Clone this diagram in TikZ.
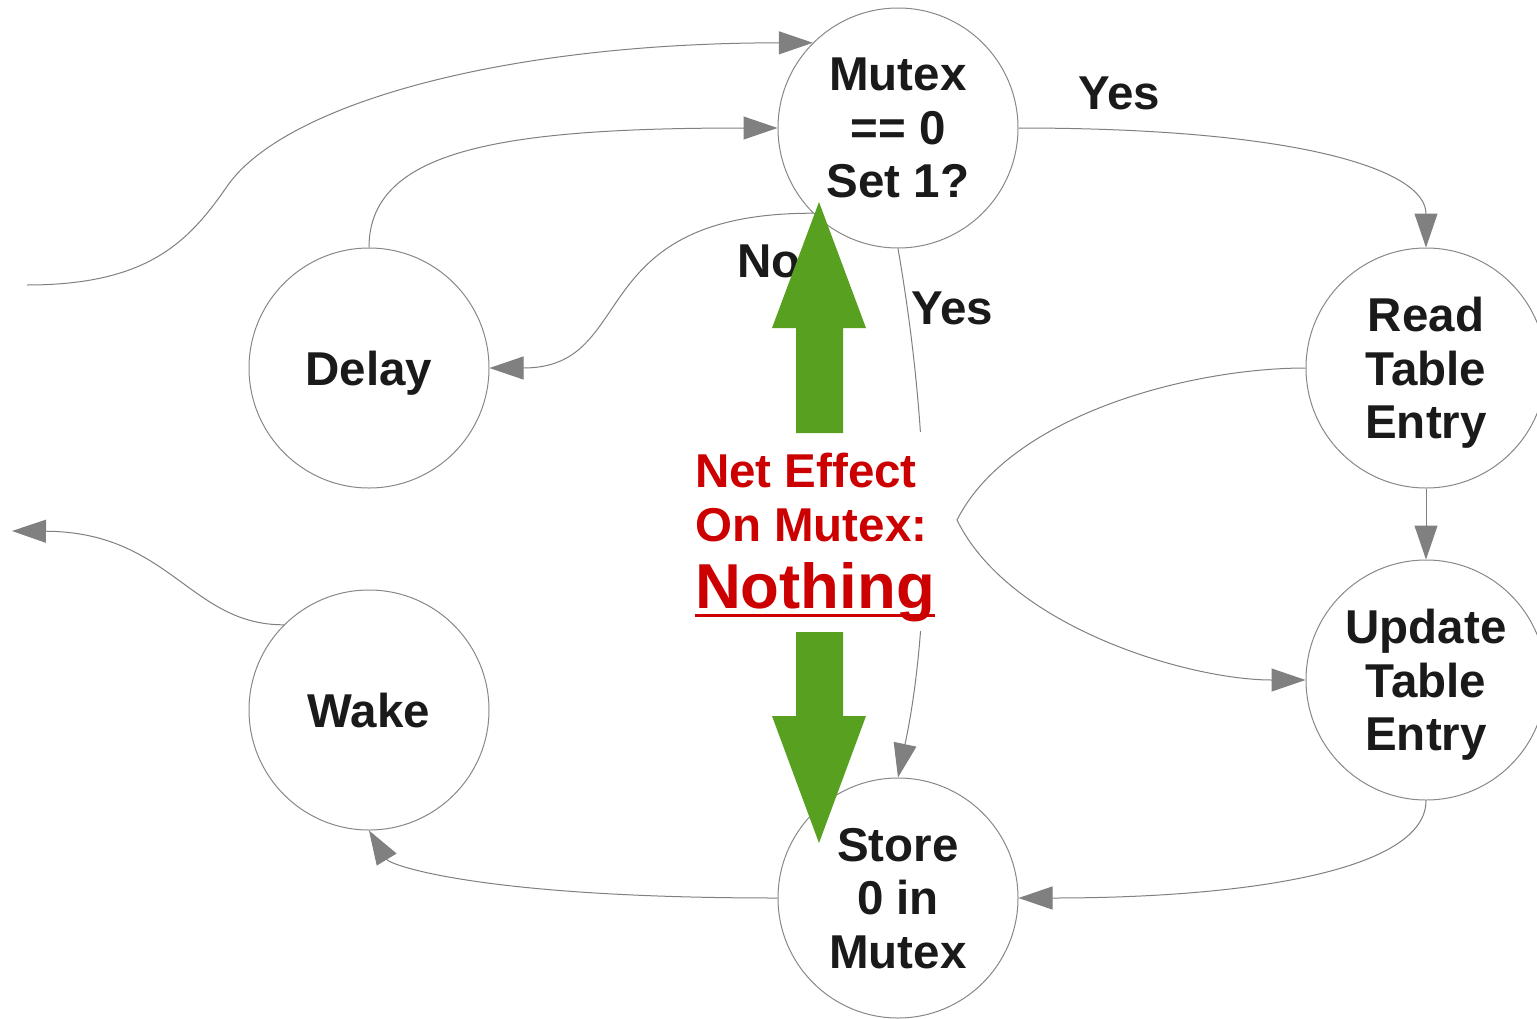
\documentclass[tikz,border=0pt]{standalone}
\usepackage{fontspec}
\setmainfont{Liberation Sans}
\usetikzlibrary{arrows.meta}
\definecolor{edgegray}{RGB}{128,128,128}
\definecolor{ringgray}{RGB}{136,136,136}
\definecolor{inkdark}{RGB}{26,26,26}
\definecolor{notered}{RGB}{204,0,0}
\definecolor{leafgreen}{RGB}{88,160,32}
% word with a flat underline set a fixed distance below the baseline
\newcommand\ulword[1]{\setbox0=\hbox{#1}\rlap{\rule[-8pt]{\wd0}{3pt}}\box0}
\begin{document}
\begin{tikzpicture}[x=1pt,y=-1pt,
  state/.style={circle, draw=ringgray, line width=1pt, minimum size=240pt,
    inner sep=0pt, align=center, text=inkdark, text depth=0pt,
    font=\fontsize{47.5}{53.5}\selectfont\bfseries},
  conn/.style={draw=edgegray, line width=1pt},
  tipped/.style={conn, -{Triangle[length=34pt,width=23pt]}},
  edgelabel/.style={text=inkdark, inner sep=0pt, anchor=base,
    font=\fontsize{47.5}{53.5}\selectfont\bfseries},
  notebox/.style={fill=white, align=left, text=notered, inner sep=0pt,
    minimum width=265pt, minimum height=199pt, text depth=0pt,
    font=\fontsize{47.5}{54}\selectfont\bfseries},
  bigarrow/.style={fill=leafgreen, draw=none}]

\fill[white] (0,0) rectangle (1537,1018);
\useasboundingbox (0,0) rectangle (1537,1018);

% states
\node[state] (mutex)  at (898,128)  {Mutex\\== 0\\Set 1?};
\node[state] (delay)  at (369,368)  {Delay};
\node[state] (wake)   at (369,710)  {Wake};
\node[state] (store)  at (898,898)  {Store\\0 in\\Mutex};
\node[state] (read)   at (1426,368) {Read\\Table\\Entry};
\node[state] (update) at (1426,680) {Update\\Table\\Entry};

% loose ends entering and leaving the loop
\coordinate (enter) at (27,285);
\coordinate (leave) at (12,531);
\coordinate (fork)  at (957,520);

% transitions
\draw[tipped] (enter) .. controls (150,285) and (190,240) .. (228,185)
  .. controls (285,105) and (500,43) .. (mutex.135);
\draw[tipped] (delay.north) .. controls (369,150) and (500,128) .. (mutex.west);
\draw[tipped] (mutex.225) .. controls (580,213) and (640,368) .. (delay.east);
\draw[tipped] (mutex.east) .. controls (1300,128) and (1426,170) .. (read.north);
\draw[tipped] (mutex.south) .. controls (938,480) and (925,650) .. (store.north);
\draw[tipped] (read.west) .. controls (1190,368) and (1010,415) .. (fork)
  .. controls (1010,628) and (1190,680) .. (update.west);
\draw[tipped] (read.south) -- (update.north);
\draw[tipped] (update.south) .. controls (1426,870) and (1250,898) .. (store.east);
\draw[tipped] (store.west) .. controls (480,898) and (390,865) .. (wake.south);
\draw[tipped] (wake.135) .. controls (190,625) and (170,532) .. (leave);

% branch labels
\node[edgelabel] (yesright) at (1119,109) {Yes};
\node[edgelabel] (yesdown)  at (952,324)  {Yes};
\node[edgelabel] (no)       at (769,277)  {No};

% summary note
\node[notebox] (note) at (815,531)
  {Net Effect\\On Mutex:\\[13pt]{\fontsize{63.5}{72}\selectfont\ulword{Nothing}}};

% block arrows from the note to the two states
\fill[bigarrow] (796,433) -- (796,328) -- (772,328) -- (819,202)
  -- (866,328) -- (843,328) -- (843,433) -- cycle;
\fill[bigarrow] (796,632) -- (796,716) -- (772,716) -- (819,843)
  -- (866,716) -- (843,716) -- (843,632) -- cycle;
\end{tikzpicture}
\end{document}
